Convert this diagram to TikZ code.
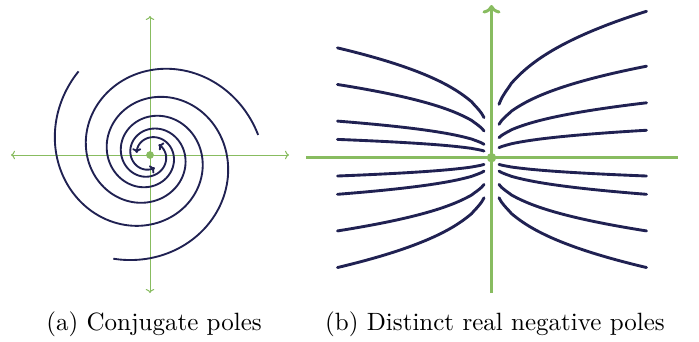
\documentclass[tikz,border=0pt]{standalone}
\usetikzlibrary{arrows.meta}
\definecolor{navy}{RGB}{32,33,82}
\definecolor{axgreen}{RGB}{136,188,96}
\tikzset{
  axthin/.style={draw=axgreen, line width=0.4pt},
  axthick/.style={draw=axgreen, line width=1.2pt},
  spiralarm/.style={draw=navy, line width=0.75pt, -{To[length=1.8pt,width=3.6pt]}},
  traj/.style={draw=navy, line width=1.15pt, line cap=round},
  poledot/.style={circle, fill=axgreen, inner sep=0pt, minimum size=3.1pt},
  caption/.style={anchor=base, font=\fontsize{10}{12}\selectfont, inner sep=0pt}
}
\begin{document}
\begin{tikzpicture}[x=0.4pt, y=-0.4pt]
\useasboundingbox (0,0) rectangle (699,341);
% ---------- (a) conjugate poles ----------
\coordinate (aL) at (11,155);
\coordinate (aR) at (289,155);
\coordinate (aT) at (150,16);
\coordinate (aB) at (150,293);
\draw[axthin, {To[length=1.6pt,width=3.4pt]}-{To[length=1.6pt,width=3.4pt]}] (aL) -- (aR);
\draw[axthin, {To[length=1.6pt,width=3.4pt]}-{To[length=1.6pt,width=3.4pt]}] (aB) -- (aT);
\foreach \th in {10.5,130.5,250.5}{
  \draw[spiralarm] plot[smooth, samples=220, domain=\th:\th+640]
    ({150+110*exp(-0.003281*(\x-\th))*cos(\x)}, {155-110*exp(-0.003281*(\x-\th))*sin(\x)});
}
\node[poledot] (pa) at (150,155) {};
% ---------- (b) distinct real negative poles ----------
\coordinate (bL) at (306,157.7);
\coordinate (bR) at (678,157.7);
\coordinate (bB) at (491.5,293);
\coordinate (bT) at (491.5,5);
\draw[axthick] (bL) -- (bR);
\draw[axthick, -{To[length=3.4pt,width=7.2pt]}] (bB) -- (bT);
\foreach \a in {1,2,4,6}{
  \draw[traj] plot[smooth, samples=60, domain=7.5:154]
    ({491.5-\x}, {157.7-\a*18.3*(\x/154)^(1/3)});
  \draw[traj] plot[smooth, samples=60, domain=7.5:154]
    ({491.5-\x}, {157.7+\a*18.3*(\x/154)^(1/3)});
  \draw[traj] plot[smooth, samples=60, domain=7.5:155]
    ({491.5+\x}, {157.7+\a*18.3*(\x/155)^(1/3)});
}
\foreach \a in {1.5,3,5,8}{
  \draw[traj] plot[smooth, samples=60, domain=7.5:155]
    ({491.5+\x}, {157.7-\a*18.3*(\x/155)^(1/3)});
}
\node[poledot, minimum size=3.8pt] (pb) at (491.5,157.7) {};
% ---------- captions ----------
\node[caption] (capa) at (154,330) {(a) Conjugate poles};
\node[caption] (capb) at (495,330) {(b) Distinct real negative poles};
\end{tikzpicture}
\end{document}
